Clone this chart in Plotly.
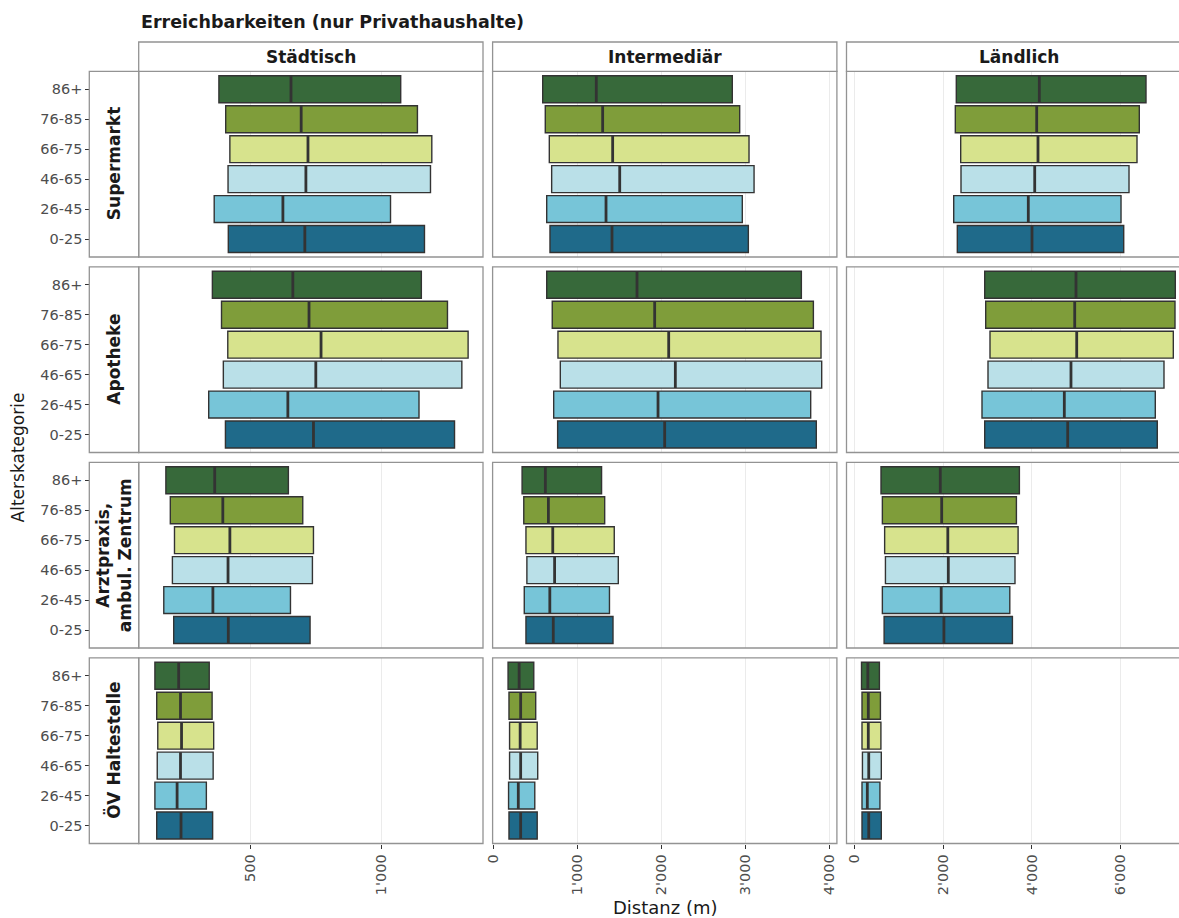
import plotly.graph_objects as go

W, H = 1179, 918

# ---------------------------------------------------------------- data
age_groups = ["0-25", "26-45", "46-65", "66-75", "76-85", "86+"]
age_colors = ["#1F6A8A", "#77C5D8", "#BAE0E8", "#D7E38D", "#7F9D3A", "#37693A"]

areas = ["Städtisch", "Intermediär", "Ländlich"]
facilities = ["Supermarkt", "Apotheke", "Arztpraxis,<br>ambul. Zentrum", "ÖV Haltestelle"]

# distance quartiles (m) per age group, order as in age_groups
supermarkt_staedtisch_q1 = [414, 360, 413, 420, 404, 378]
supermarkt_staedtisch_med = [707, 623, 711, 719, 693, 654]
supermarkt_staedtisch_q3 = [1165, 1035, 1188, 1193, 1138, 1074]

supermarkt_intermediaer_q1 = [675, 636, 695, 667, 619, 588]
supermarkt_intermediaer_med = [1413, 1342, 1505, 1421, 1302, 1226]
supermarkt_intermediaer_q3 = [3036, 2964, 3104, 3044, 2933, 2845]

supermarkt_laendlich_q1 = [2320, 2239, 2403, 2396, 2275, 2297]
supermarkt_laendlich_med = [4002, 3919, 4063, 4137, 4108, 4167]
supermarkt_laendlich_q3 = [6068, 6007, 6187, 6367, 6419, 6570]

apotheke_staedtisch_q1 = [403, 339, 395, 412, 388, 353]
apotheke_staedtisch_med = [740, 642, 749, 769, 723, 661]
apotheke_staedtisch_q3 = [1280, 1144, 1308, 1332, 1253, 1153]

apotheke_intermediaer_q1 = [766, 719, 798, 770, 702, 636]
apotheke_intermediaer_med = [2040, 1961, 2167, 2088, 1921, 1711]
apotheke_intermediaer_q3 = [3845, 3778, 3909, 3901, 3810, 3667]

apotheke_laendlich_q1 = [2937, 2876, 3011, 3056, 2959, 2937]
apotheke_laendlich_med = [4806, 4730, 4880, 5009, 4964, 4993]
apotheke_laendlich_q3 = [6824, 6779, 6975, 7185, 7223, 7230]

arzt_staedtisch_q1 = [205, 167, 200, 208, 192, 175]
arzt_staedtisch_med = [414, 355, 413, 420, 393, 362]
arzt_staedtisch_q3 = [727, 652, 736, 740, 699, 644]

arzt_intermediaer_q1 = [389, 369, 400, 389, 363, 343]
arzt_intermediaer_med = [714, 673, 730, 708, 656, 620]
arzt_intermediaer_q3 = [1425, 1383, 1488, 1440, 1326, 1289]

arzt_laendlich_q1 = [671, 632, 701, 683, 632, 601]
arzt_laendlich_med = [2018, 1957, 2117, 2106, 1968, 1937]
arzt_laendlich_q3 = [3561, 3502, 3619, 3689, 3651, 3718]

oev_staedtisch_q1 = [140, 133, 142, 144, 140, 133]
oev_staedtisch_med = [233, 218, 231, 235, 231, 224]
oev_staedtisch_q3 = [354, 330, 356, 358, 352, 341]

oev_intermediaer_q1 = [187, 182, 194, 194, 187, 176]
oev_intermediaer_med = [326, 298, 326, 320, 326, 308]
oev_intermediaer_q3 = [523, 494, 529, 523, 505, 482]

oev_laendlich_q1 = [173, 173, 183, 173, 173, 162]
oev_laendlich_med = [325, 293, 325, 315, 315, 304]
oev_laendlich_q3 = [608, 577, 608, 599, 588, 565]

# x-axis ticks per area column
staedtisch_ticks = [500, 1000]
staedtisch_ticktext = ["500", "1'000"]
intermediaer_ticks = [0, 1000, 2000, 3000, 4000]
intermediaer_ticktext = ["0", "1'000", "2'000", "3'000", "4'000"]
laendlich_ticks = [0, 2000, 4000, 6000]
laendlich_ticktext = ["0", "2'000", "4'000", "6'000"]

# ---------------------------------------------------------------- panel table
panels = [
    [(supermarkt_staedtisch_q1, supermarkt_staedtisch_med, supermarkt_staedtisch_q3),
     (supermarkt_intermediaer_q1, supermarkt_intermediaer_med, supermarkt_intermediaer_q3),
     (supermarkt_laendlich_q1, supermarkt_laendlich_med, supermarkt_laendlich_q3)],
    [(apotheke_staedtisch_q1, apotheke_staedtisch_med, apotheke_staedtisch_q3),
     (apotheke_intermediaer_q1, apotheke_intermediaer_med, apotheke_intermediaer_q3),
     (apotheke_laendlich_q1, apotheke_laendlich_med, apotheke_laendlich_q3)],
    [(arzt_staedtisch_q1, arzt_staedtisch_med, arzt_staedtisch_q3),
     (arzt_intermediaer_q1, arzt_intermediaer_med, arzt_intermediaer_q3),
     (arzt_laendlich_q1, arzt_laendlich_med, arzt_laendlich_q3)],
    [(oev_staedtisch_q1, oev_staedtisch_med, oev_staedtisch_q3),
     (oev_intermediaer_q1, oev_intermediaer_med, oev_intermediaer_q3),
     (oev_laendlich_q1, oev_laendlich_med, oev_laendlich_q3)],
]
col_ticks = [(staedtisch_ticks, staedtisch_ticktext),
             (intermediaer_ticks, intermediaer_ticktext),
             (laendlich_ticks, laendlich_ticktext)]
col_ranges = [[71, 1389], [-8, 4090], [-176, 7313]]

# ---------------------------------------------------------------- geometry (px)
col_px = [(138.7, 483.0), (492.6, 836.9), (846.5, 1190.8)]
row_px = [(71.3, 257.0), (266.8, 452.5), (462.3, 648.0), (657.8, 843.5)]
strip_top = 42.0
row_strip_left = 89.3

BORDER = "#939393"
TEXT = "#1A1A1A"
TICKTXT = "#4D4D4D"
FONT = "DejaVu Sans"
BAR_W = 0.9


def fx(px):
    return px / W


def fy(py):
    return 1 - py / H


fig = go.Figure()
layout = {}
shapes = []
annotations = []
ypos = list(range(len(age_groups)))

for r in range(4):
    for c in range(3):
        k = r * 3 + c + 1
        xa = "x" if k == 1 else f"x{k}"
        ya = "y" if k == 1 else f"y{k}"
        q1, med, q3 = panels[r][c]

        fig.add_trace(go.Bar(
            y=ypos, x=[b - a for a, b in zip(q1, q3)], base=q1,
            orientation="h", width=BAR_W,
            marker=dict(color=age_colors, line=dict(color="#333333", width=1.4)),
            xaxis=xa, yaxis=ya, showlegend=False, hoverinfo="skip",
        ))
        mx, my = [], []
        for i, m in enumerate(med):
            mx += [m, m, None]
            my += [i - BAR_W / 2, i + BAR_W / 2, None]
        fig.add_trace(go.Scatter(
            x=mx, y=my, mode="lines", line=dict(color="#333333", width=2.8),
            xaxis=xa, yaxis=ya, showlegend=False, hoverinfo="skip",
        ))

        x0, x1 = col_px[c]
        y0, y1 = row_px[r]
        tv, tt = col_ticks[c]
        bottom = r == 3
        layout["xaxis" if k == 1 else f"xaxis{k}"] = dict(
            domain=[fx(x0), min(1.0, fx(x1))], anchor=ya, range=col_ranges[c],
            tickvals=tv, ticktext=tt, showgrid=True, gridcolor="#EBEBEB", gridwidth=1,
            zeroline=False, showline=False, automargin=False, fixedrange=True,
            ticks="outside" if bottom else "", ticklen=4, tickwidth=1, tickcolor="#333333",
            showticklabels=bottom, tickangle=-90,
            tickfont=dict(family=FONT, size=14.5, color=TICKTXT),
        )
        yax = dict(
            domain=[fy(y1), fy(y0)], range=[-0.6, len(age_groups) - 0.4],
            tickvals=ypos, ticktext=age_groups, showgrid=False, zeroline=False,
            showline=False, fixedrange=True, automargin=False,
        )
        if c == 0:
            yax.update(anchor="free", position=fx(row_strip_left), side="left",
                       ticks="outside", ticklen=4, tickwidth=1, tickcolor="#333333",
                       showticklabels=True,
                       tickfont=dict(family=FONT, size=14.5, color=TICKTXT))
        else:
            yax.update(anchor=xa, ticks="", showticklabels=False)
        layout["yaxis" if k == 1 else f"yaxis{k}"] = yax

        # panel border
        shapes.append(dict(type="rect", xref="paper", yref="paper",
                           x0=fx(x0), x1=fx(x1), y0=fy(y1), y1=fy(y0),
                           line=dict(color=BORDER, width=1.3), fillcolor="rgba(0,0,0,0)",
                           layer="above"))

# column strips
for c, name in enumerate(areas):
    x0, x1 = col_px[c]
    shapes.append(dict(type="rect", xref="paper", yref="paper",
                       x0=fx(x0), x1=fx(x1), y0=fy(row_px[0][0]), y1=fy(strip_top),
                       line=dict(color=BORDER, width=1.3), fillcolor="white"))
    annotations.append(dict(text=f"<b>{name}</b>", xref="paper", yref="paper",
                            x=fx((x0 + x1) / 2), y=fy((strip_top + row_px[0][0]) / 2),
                            xanchor="center", yanchor="middle", showarrow=False,
                            font=dict(family=FONT, size=17, color=TEXT)))

# row strips
for r, name in enumerate(facilities):
    y0, y1 = row_px[r]
    shapes.append(dict(type="rect", xref="paper", yref="paper",
                       x0=fx(row_strip_left), x1=fx(col_px[0][0]), y0=fy(y1), y1=fy(y0),
                       line=dict(color=BORDER, width=1.3), fillcolor="white"))
    annotations.append(dict(text=f"<b>{name}</b>", xref="paper", yref="paper",
                            x=fx((row_strip_left + col_px[0][0]) / 2), y=fy((y0 + y1) / 2),
                            xanchor="center", yanchor="middle", showarrow=False,
                            textangle=-90,
                            font=dict(family=FONT, size=17, color=TEXT)))

# titles
annotations.append(dict(text="<b>Erreichbarkeiten (nur Privathaushalte)</b>",
                        xref="paper", yref="paper", x=fx(139), y=fy(22),
                        xanchor="left", yanchor="middle", showarrow=False,
                        font=dict(family=FONT, size=17.5, color=TEXT)))
annotations.append(dict(text="Alterskategorie", xref="paper", yref="paper",
                        x=fx(18), y=fy((row_px[0][0] + row_px[3][1]) / 2),
                        xanchor="center", yanchor="middle", showarrow=False,
                        textangle=-90, font=dict(family=FONT, size=17, color=TEXT)))
annotations.append(dict(text="Distanz (m)", xref="paper", yref="paper",
                        x=fx((col_px[0][0] + col_px[2][1]) / 2), y=fy(907),
                        xanchor="center", yanchor="middle", showarrow=False,
                        font=dict(family=FONT, size=18, color=TEXT)))

fig.update_layout(
    width=W, height=H, margin=dict(l=0, r=0, t=0, b=0, pad=0, autoexpand=False),
    paper_bgcolor="white", plot_bgcolor="white",
    barmode="overlay", showlegend=False,
    shapes=shapes, annotations=annotations,
    font=dict(family=FONT),
    **layout,
)

fig.write_html("out.html")
